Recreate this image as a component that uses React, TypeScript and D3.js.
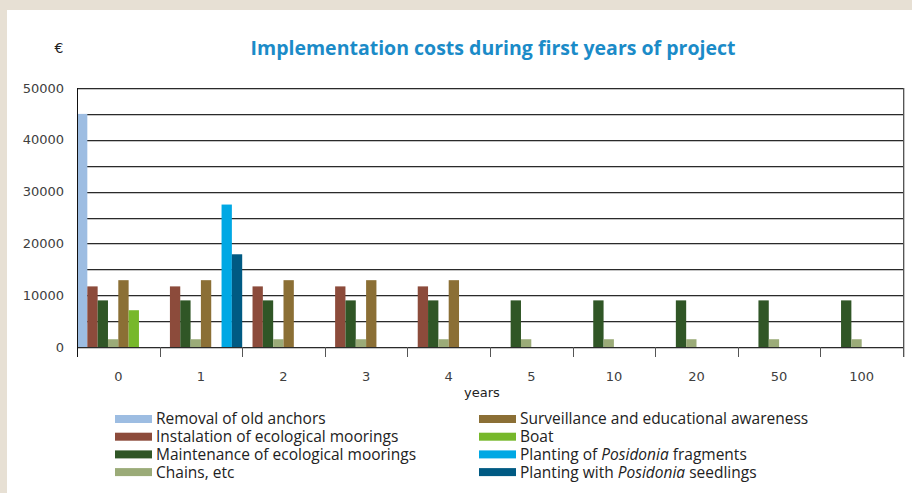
import React from "react";
import * as d3 from "d3";

// Year categories along the x axis
const years = ["0", "1", "2", "3", "4", "5", "10", "20", "50", "100"];

// Cost series (€) per year category, in the same order as `years`
const removalOfOldAnchors = [45000, 0, 0, 0, 0, 0, 0, 0, 0, 0];
const installationOfMoorings = [11700, 11700, 11700, 11700, 11700, 0, 0, 0, 0, 0];
const maintenanceOfMoorings = [9000, 9000, 9000, 9000, 9000, 9000, 9000, 9000, 9000, 9000];
const chainsEtc = [1500, 1500, 1500, 1500, 1500, 1500, 1500, 1500, 1500, 1500];
const surveillance = [12900, 12900, 12900, 12900, 12900, 0, 0, 0, 0, 0];
const boat = [7100, 0, 0, 0, 0, 0, 0, 0, 0, 0];
const plantingFragments = [0, 27500, 0, 0, 0, 0, 0, 0, 0, 0];
const plantingSeedlings = [0, 17900, 0, 0, 0, 0, 0, 0, 0, 0];

const yTicks = [0, 10000, 20000, 30000, 40000, 50000];
const gridValues = [5000, 10000, 15000, 20000, 25000, 30000, 35000, 40000, 45000, 50000];

type Series = {
  key: string;
  label: [string, string?, string?]; // plain, italic, plain
  color: string;
  values: number[];
};

const series: Series[] = [
  { key: "removal", label: ["Removal of old anchors"], color: "#9dbde2", values: removalOfOldAnchors },
  { key: "install", label: ["Instalation of ecological moorings"], color: "#8c4b3b", values: installationOfMoorings },
  { key: "maint", label: ["Maintenance of ecological moorings"], color: "#305626", values: maintenanceOfMoorings },
  { key: "chains", label: ["Chains, etc"], color: "#9bab78", values: chainsEtc },
  { key: "surv", label: ["Surveillance and educational awareness"], color: "#8b6f35", values: surveillance },
  { key: "boat", label: ["Boat"], color: "#77b82b", values: boat },
  { key: "frag", label: ["Planting of ", "Posidonia", " fragments"], color: "#00a8e4", values: plantingFragments },
  { key: "seed", label: ["Planting with ", "Posidonia", " seedlings"], color: "#005a83", values: plantingSeedlings },
];

const W = 912;
const H = 493;
const plot = { left: 77, right: 903, top: 88, bottom: 347 };

export default function App() {
  const x = d3.scaleBand<string>().domain(years).range([plot.left, plot.right]).padding(0);
  const xInner = d3
    .scaleBand<string>()
    .domain(series.map((s) => s.key))
    .range([0, x.bandwidth()])
    .padding(0);
  const y = d3.scaleLinear().domain([0, 50000]).range([plot.bottom, plot.top]);

  const font = "DejaVu Sans, sans-serif";
  const textFont = "'Open Sans', sans-serif";

  const tickXs = years.map((c) => x(c) as number).concat([plot.right]);

  return (
    <svg
      width={W}
      height={H}
      style={{ position: "fixed", left: 0, top: 0, display: "block" }}
      xmlns="http://www.w3.org/2000/svg"
    >
      {/* page frame */}
      <rect x={0} y={0} width={W} height={H} fill="#e7e0d4" />
      <rect x={7} y={10} width={W - 7} height={H - 10} fill="#ffffff" />

      {/* title and unit */}
      <text x={59} y={53} fontFamily={font} fontSize={14} fill="#222" textAnchor="middle">
        €
      </text>
      <text
        x={493}
        y={55}
        fontFamily={textFont}
        fontWeight={700}
        fontSize={19.5}
        fill="#1b8bc8"
        textAnchor="middle"
      >
        Implementation costs during first years of project
      </text>

      {/* horizontal gridlines */}
      {gridValues.map((v) => {
        const yy = Math.round(y(v));
        return (
          <g key={v}>
            <line x1={plot.left} x2={plot.right} y1={yy + 0.5} y2={yy + 0.5} stroke="#2a2a2a" strokeWidth={1} />
            <line x1={plot.left} x2={plot.right} y1={yy + 1.5} y2={yy + 1.5} stroke="#c4c4c4" strokeWidth={1} />
          </g>
        );
      })}

      {/* bars */}
      {years.map((c, ci) => (
        <g key={c} transform={`translate(${x(c)},0)`}>
          {series.map((s) =>
            s.values[ci] > 0 ? (
              <rect
                key={s.key}
                x={xInner(s.key)}
                y={y(s.values[ci])}
                width={xInner.bandwidth()}
                height={plot.bottom - y(s.values[ci])}
                fill={s.color}
              />
            ) : null
          )}
        </g>
      ))}

      {/* x axis line */}
      <line x1={plot.left} x2={plot.right} y1={plot.bottom + 0.5} y2={plot.bottom + 0.5} stroke="#2a2a2a" />
      <line x1={plot.left} x2={plot.right} y1={plot.bottom + 1.5} y2={plot.bottom + 1.5} stroke="#c4c4c4" />

      {/* left axis */}
      <line x1={plot.left + 0.5} x2={plot.left + 0.5} y1={plot.top} y2={plot.bottom + 10} stroke="#111" />
      {/* right edge */}
      <line x1={plot.right + 0.5} x2={plot.right + 0.5} y1={plot.top} y2={plot.bottom + 10} stroke="#555" />
      <line x1={plot.right + 1.5} x2={plot.right + 1.5} y1={plot.top} y2={plot.bottom + 10} stroke="#c4c4c4" />

      {/* category ticks */}
      {tickXs.slice(1, -1).map((tx, i) => (
        <line
          key={i}
          x1={Math.round(tx) + 0.5}
          x2={Math.round(tx) + 0.5}
          y1={plot.bottom}
          y2={plot.bottom + 10}
          stroke="#555"
        />
      ))}

      {/* y tick labels */}
      {yTicks.map((v) => (
        <text
          key={v}
          x={64}
          y={y(v)}
          dy="0.35em"
          fontFamily={font}
          fontSize={13}
          fill="#404040"
          textAnchor="end"
        >
          {v}
        </text>
      ))}

      {/* x tick labels */}
      {years.map((c) => (
        <text
          key={c}
          x={(x(c) as number) + x.bandwidth() / 2}
          y={376}
          dy="0.35em"
          fontFamily={font}
          fontSize={13}
          fill="#404040"
          textAnchor="middle"
        >
          {c}
        </text>
      ))}
      <text x={482} y={392} dy="0.35em" fontFamily={font} fontSize={13} fill="#222" textAnchor="middle">
        years
      </text>

      {/* legend */}
      {series.map((s, i) => {
        const col = i < 4 ? 0 : 1;
        const row = i % 4;
        const lx = col === 0 ? 115 : 479;
        const ly = 419 + row * 17.7;
        return (
          <g key={s.key}>
            <rect x={lx} y={ly - 4} width={37} height={8} fill={s.color} />
            <text x={lx + 41} y={ly} dy="0.35em" fontFamily={textFont} fontSize={15.5} fill="#222">
              <tspan>{s.label[0]}</tspan>
              {s.label[1] ? <tspan fontStyle="italic">{s.label[1]}</tspan> : null}
              {s.label[2] ? <tspan>{s.label[2]}</tspan> : null}
            </text>
          </g>
        );
      })}
    </svg>
  );
}
